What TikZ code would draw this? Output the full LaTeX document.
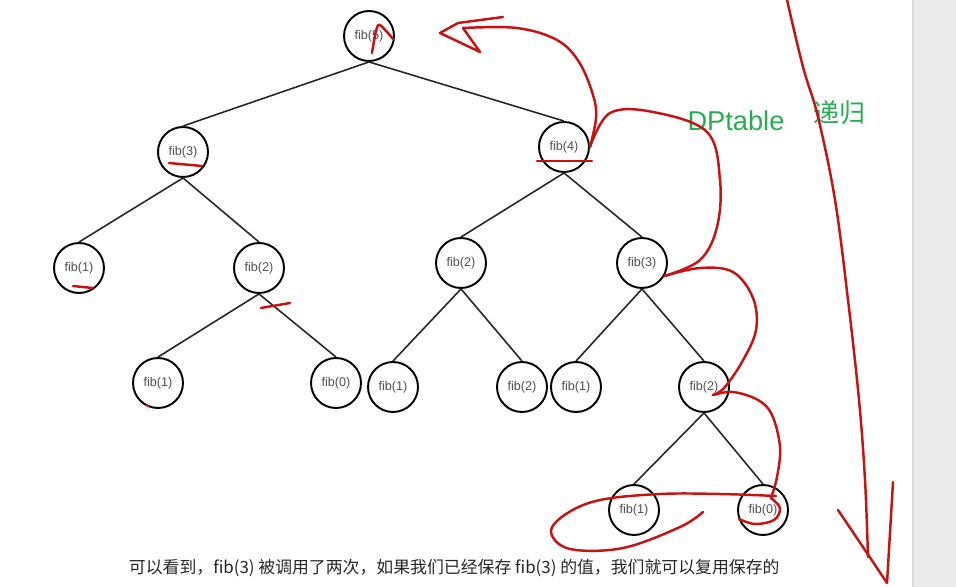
\documentclass[tikz,border=0pt]{standalone}
\usepackage{fontspec}
\setmainfont{Liberation Sans}
\newfontfamily\cjk{Noto Sans CJK SC}
\definecolor{inkred}{RGB}{200,18,18}
\definecolor{notegreen}{RGB}{40,172,80}
\definecolor{labelgrey}{RGB}{80,80,80}
\tikzset{every node/.style={circle,draw,line width=1.1pt,minimum size=1cm,inner sep=0pt,text=labelgrey,font=\fontsize{7.2}{8}\selectfont}}
\tikzset{ink/.style={draw=inkred,line width=1.4pt,line cap=round,line join=round}}
\tikzset{branch/.style={draw=black!85,line width=0.9pt}}

\begin{document}
\begin{tikzpicture}[x=0.02cm,y=-0.02cm]
      \useasboundingbox (0,0) rectangle (956,587);
      \fill[black!8] (913,0) rectangle (956,587);
      \draw[black!14,line width=0.6pt] (913,0) -- (913,587);

      \node (F5) at (369,36) {fib(5)};
      \node (F3a) at (183,152) {fib(3)};
      \node (F4) at (564,147) {fib(4)};
      \node (F1a) at (79,268) {fib(1)};
      \node (F2a) at (259,268) {fib(2)};
      \node (F2b) at (461,263) {fib(2)};
      \node (F3b) at (642,263) {fib(3)};
      \node (F1b) at (158,383) {fib(1)};
      \node (F0a) at (336,383) {fib(0)};
      \node (F1c) at (393,387) {fib(1)};
      \node (F2c) at (522,387) {fib(2)};
      \node (F1d) at (576,387) {fib(1)};
      \node (F2d) at (704,387) {fib(2)};
      \node (F1e) at (634,510) {fib(1)};
      \node (F0b) at (763,510) {fib(0)};

      \draw[branch] (F5.south) -- (F3a.north);
      \draw[branch] (F5.south) -- (F4.north);
      \draw[branch] (F3a.south) -- (F1a.north);
      \draw[branch] (F3a.south) -- (F2a.north);
      \draw[branch] (F2a.south) -- (F1b.north);
      \draw[branch] (F2a.south) -- (F0a.north);
      \draw[branch] (F4.south) -- (F2b.north);
      \draw[branch] (F4.south) -- (F3b.north);
      \draw[branch] (F2b.south) -- (F1c.north);
      \draw[branch] (F2b.south) -- (F2c.north);
      \draw[branch] (F3b.south) -- (F1d.north);
      \draw[branch] (F3b.south) -- (F2d.north);
      \draw[branch] (F2d.south) -- (F1e.north);
      \draw[branch] (F2d.south) -- (F0b.north);

      \node[draw=none,rectangle,minimum size=0pt,text=notegreen,font=\fontsize{15.5}{18}\selectfont] (dp) at (736,121) {DPtable};
      \node[draw=none,rectangle,minimum size=0pt,text=notegreen,font=\cjk\fontsize{14.8}{17}\selectfont] (dg) at (839,113) {递归};
      \node[draw=none,rectangle,minimum size=0pt,anchor=west,text=black!85,font=\cjk\fontsize{9.6}{11}\selectfont] (cap) at (128,568) {可以看到，fib(3) 被调用了两次，如果我们已经保存 fib(3) 的值，我们就可以复用保存的};

      \draw[ink] plot[smooth] coordinates {(372,53) (376,31) (380,25) (393,39)};
      \draw[ink] (503,17) -- (458,23) -- (440,33) -- (480,52) -- (463,28);
      \draw[ink] plot[smooth,tension=0.6] coordinates {(463,28) (517,28) (557,40) (579,62) (593,95) (596,118) (F4.east)};
      \draw[ink] plot[smooth,tension=0.6] coordinates {(F4.east) (610,113) (653,112) (707,132) (720,180) (717,227) (700,260) (F3b.-30)};
      \draw[ink] plot[smooth,tension=0.6] coordinates {(F3b.-30) (700,268) (733,272) (753,298) (756,330) (742,362) (724,388) (713,395)};
      \draw[ink] plot[smooth,tension=0.6] coordinates {(713,395) (733,392) (758,400) (772,415) (780,447) (777,477) (771,498)};
      \draw[ink] plot[smooth,tension=0.6] coordinates {(771,498) (780,508) (774,520) (755,524) (739,519)};
      \draw[ink] plot[smooth,tension=0.6] coordinates {(776,496) (720,494) (660,494) (600,500) (566,514) (551,532) (570,549) (623,548) (680,527) (703,512)};

      \draw[ink] (169,163) -- (202,166);
      \draw[ink] (73,286) -- (93,288);
      \draw[ink] (261,308) -- (290,303);
      \draw[ink] (147,405) -- (148,406);
      \draw[ink] (537,161) -- (592,161);

      \draw[ink] plot[smooth,tension=0.6] coordinates {(787,0) (803,67) (818,117) (835,200) (848,300) (859,400) (865,480) (868,557)};
      \draw[ink] (838,510) -- (869,556) -- (887,583) -- (893,482);
\end{tikzpicture}
\end{document}
